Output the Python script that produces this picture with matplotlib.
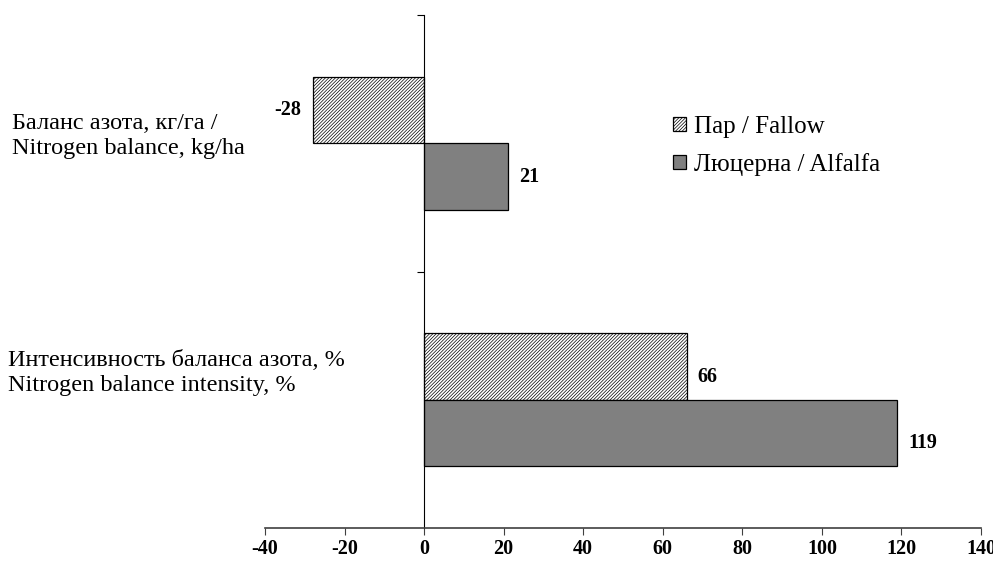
import matplotlib.pyplot as plt
import numpy as np

plt.rcParams['font.family'] = ['Liberation Serif', 'DejaVu Serif']
plt.rcParams['hatch.linewidth'] = 0.5

categories = ["Интенсивность баланса азота, %\nNitrogen balance intensity, %",
              "Баланс азота, кг/га /\nNitrogen balance, kg/ha"]
fallow = [66, -28]
alfalfa = [119, 21]
series_names = ["Пар / Fallow", "Люцерна / Alfalfa"]
xticks = [-40, -20, 0, 20, 40, 60, 80, 100, 120, 140]

fig = plt.figure(figsize=(9.93, 5.62), dpi=100)
ax = fig.add_axes([0.2669, 0.0605, 0.721, 0.9128])

ind = np.arange(len(categories))
h = 0.26
b1 = ax.barh(ind + h / 2, fallow, height=h, color='white', edgecolor='black',
             hatch='//////////', linewidth=0.9, label=series_names[0])
b2 = ax.barh(ind - h / 2, alfalfa, height=h, color='#808080', edgecolor='black',
             linewidth=0.9, label=series_names[1])

for bars, vals in ((b1, fallow), (b2, alfalfa)):
    for i, (bar, v) in enumerate(zip(bars, vals)):
        y = bar.get_y() + bar.get_height() / 2
        if i == 0:
            y -= 0.04
        if v < 0:
            ax.text(v - 2.8, y, str(v), ha='right', va='center',
                    fontsize=14.5, fontweight='bold')
        else:
            ax.text(v + 2.8, y, str(v), ha='left', va='center',
                    fontsize=14.5, fontweight='bold')

ax.set_xlim(-40, 140)
ax.set_ylim(-0.5, 1.5)
ax.set_xticks(xticks)
ax.set_xticklabels([str(t) for t in xticks], fontsize=14.5, fontweight='bold')
ax.set_yticks([0.5, 1.5])
ax.set_yticklabels([])
ax.spines['left'].set_position(('data', 0))
ax.spines['top'].set_visible(False)
ax.spines['right'].set_visible(False)
ax.spines['bottom'].set_color('#404040')
ax.spines['bottom'].set_linewidth(1.2)
ax.tick_params(axis='x', direction='out', length=5, color='#404040', pad=3)
ax.tick_params(axis='y', direction='out', length=5)

# category labels on the left of the figure
fig.text(12 / 993, 1 - 136 / 562, categories[1], ha='left', va='center',
         fontsize=17.5, linespacing=1.3)
fig.text(8 / 993, 1 - 373 / 562, categories[0], ha='left', va='center',
         fontsize=17.5, linespacing=1.3)

ax.legend(handles=[b1, b2], loc='center left',
          bbox_to_anchor=(673 / 993, 1 - 146 / 562),
          bbox_transform=fig.transFigure,
          frameon=False, fontsize=18, handlelength=0.5, handleheight=0.5,
          handletextpad=0.35, labelspacing=0.62, borderpad=0, borderaxespad=0)

fig.savefig('out.png', dpi=100)
